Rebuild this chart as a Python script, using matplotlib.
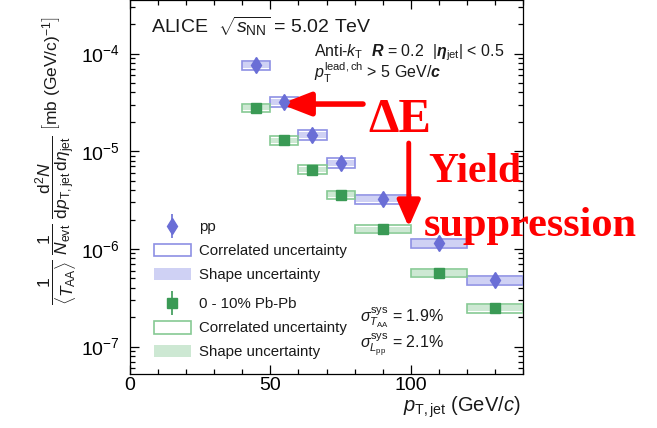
import numpy as np
import matplotlib
matplotlib.use('Agg')
import matplotlib.pyplot as plt
from matplotlib.patches import Patch
from matplotlib.container import ErrorbarContainer
from matplotlib.legend_handler import HandlerErrorbar
from matplotlib.ticker import MultipleLocator, LogLocator, NullFormatter

plt.rcParams['font.family'] = ['Liberation Sans', 'DejaVu Sans']
plt.rcParams['mathtext.fontset'] = 'custom'
plt.rcParams['mathtext.rm'] = 'Liberation Sans'
plt.rcParams['mathtext.it'] = 'Liberation Sans:italic'
plt.rcParams['mathtext.bf'] = 'Liberation Sans:bold'
plt.rcParams['mathtext.bfit'] = 'Liberation Sans:bold:italic'
plt.rcParams['text.color'] = '#1a1a1a'

# pT,jet bins (GeV/c)
bin_lo = [40, 50, 60, 70, 80, 100, 120]
bin_hi = [50, 60, 70, 80, 100, 120, 140]

# pp cross section (mb (GeV/c)^-1)
pp_vals = [7.6e-5, 3.2e-5, 1.47e-5, 7.6e-6, 3.25e-6, 1.15e-6, 4.8e-7]
# 0-10% Pb-Pb yield scaled by <T_AA>
pb_vals = [2.8e-5, 1.3e-5, 6.5e-6, 3.6e-6, 1.6e-6, 5.7e-7, 2.47e-7]

# relative uncertainties (estimated)
pp_stat = [0.06, 0.05, 0.05, 0.05, 0.05, 0.06, 0.07]
pb_stat = [0.04, 0.04, 0.04, 0.04, 0.04, 0.05, 0.06]
pp_corr = [0.11, 0.11, 0.11, 0.11, 0.11, 0.11, 0.11]
pb_corr = [0.10, 0.10, 0.10, 0.10, 0.10, 0.10, 0.11]
pp_shape = [0.07, 0.07, 0.07, 0.07, 0.07, 0.08, 0.08]
pb_shape = [0.06, 0.06, 0.06, 0.06, 0.06, 0.07, 0.07]

pp_col, pp_edge, pp_fill = '#6a6ed6', '#8d90e4', '#cfd1f4'
pb_col, pb_edge, pb_fill = '#3a9a55', '#86c994', '#cde8d3'

fig = plt.figure(figsize=(6.57, 4.28), dpi=100)
ax = fig.add_axes([130 / 657, 1 - 374 / 428, 393 / 657, 374 / 428])

lo = np.array(bin_lo, float)
hi = np.array(bin_hi, float)
ctr = (lo + hi) / 2
wid = hi - lo


def draw_set(vals, stat, corr, shape, col, edge, fill, marker, label, ms):
    v = np.array(vals)
    s = np.array(shape)
    c = np.array(corr)
    ax.bar(ctr, v * (1 + s) - v * (1 - s), bottom=v * (1 - s), width=wid,
           color=fill, edgecolor='none', zorder=2)
    ax.bar(ctr, v * (1 + c) - v * (1 - c), bottom=v * (1 - c), width=wid,
           facecolor='none', edgecolor=edge, linewidth=1.2, zorder=3)
    return ax.errorbar(ctr, v, yerr=v * np.array(stat), fmt=marker, color=col,
                       ms=ms, elinewidth=1.2, capsize=0, zorder=4, label=label)


h_pp = draw_set(pp_vals, pp_stat, pp_corr, pp_shape, pp_col, pp_edge, pp_fill,
                'd', 'pp', 8)
h_pb = draw_set(pb_vals, pb_stat, pb_corr, pb_shape, pb_col, pb_edge, pb_fill,
                's', '0 - 10% Pb-Pb', 6.5)

ax.set_yscale('log')
ax.set_xlim(0, 140)
ax.set_ylim(10 ** -7.28, 10 ** -3.452)
ax.set_xticks([0, 50, 100])
ax.xaxis.set_minor_locator(MultipleLocator(10))
ax.yaxis.set_major_locator(LogLocator(base=10, numticks=10))
ax.yaxis.set_minor_locator(LogLocator(base=10, subs=np.arange(2, 10), numticks=50))
ax.yaxis.set_minor_formatter(NullFormatter())
ax.tick_params(which='both', direction='in', top=True, right=True, width=0.9,
               labelsize=14)
ax.tick_params(which='major', length=6.5)
ax.tick_params(which='minor', length=3.5)
ax.tick_params(axis='y', pad=7)
ax.tick_params(axis='x', pad=2)
for sp in ax.spines.values():
    sp.set_linewidth(0.9)

# axis titles
ax.text(-0.185, 0.57,
        r'$\dfrac{1}{\langle T_{\rm AA}\rangle}\ \dfrac{1}{N_{\rm evt}}\ '
        r'\dfrac{{\rm d}^2N}{{\rm d}p_{\rm T,jet}\,{\rm d}\eta_{\rm jet}}\ '
        r'\left[{\rm mb\ (GeV/c)}^{-1}\right]$',
        transform=ax.transAxes, rotation=90, ha='center', va='center',
        fontsize=12.5)
ax.text(0.995, -0.09, r'$p_{\rm T,jet}$ (GeV/$c$)', transform=ax.transAxes,
        ha='right', va='center', fontsize=14.5)

# header texts
ax.text(0.053, 0.93, r'ALICE  $\sqrt{s_{\rm NN}}$ = 5.02 TeV',
        transform=ax.transAxes, fontsize=14, va='center')
ax.text(0.467, 0.85,
        r'Anti-$k_{\rm T}$  $\mathbfit{R}$ = 0.2  |$\mathbfit{\eta}_{\rm jet}$| < 0.5',
        transform=ax.transAxes, fontsize=11.5, va='baseline')
ax.text(0.467, 0.79, r'$p_{\rm T}^{\rm lead,ch}$ > 5 GeV/$\mathbfit{c}$',
        transform=ax.transAxes, fontsize=11.5, va='baseline')
ax.text(0.585, 0.15, r'$\sigma^{\rm sys}_{T_{\rm AA}}$ = 1.9%',
        transform=ax.transAxes, fontsize=11.5, va='center')
ax.text(0.585, 0.077, r'$\sigma^{\rm sys}_{L_{\rm pp}}$ = 2.1%',
        transform=ax.transAxes, fontsize=11.5, va='center')

# legends
leg_kw = dict(frameon=False, fontsize=10.8, handlelength=2.5, handleheight=0.93,
              labelspacing=0.62, handletextpad=0.5, borderpad=0,
              borderaxespad=0, loc='upper left',
              handler_map={ErrorbarContainer: HandlerErrorbar(yerr_size=0.8)})
leg1 = ax.legend([h_pp,
                  Patch(facecolor='white', edgecolor=pp_edge, lw=1.2),
                  Patch(facecolor=pp_fill, edgecolor='none')],
                 ['pp', 'Correlated uncertainty', 'Shape uncertainty'],
                 bbox_to_anchor=(0.06, 0.412), **leg_kw)
ax.add_artist(leg1)
ax.legend([h_pb,
           Patch(facecolor='white', edgecolor=pb_edge, lw=1.2),
           Patch(facecolor=pb_fill, edgecolor='none')],
          ['0 - 10% Pb-Pb', 'Correlated uncertainty', 'Shape uncertainty'],
          bbox_to_anchor=(0.06, 0.206), **leg_kw)

# red annotations
ax.annotate('', xy=(53.6, 10 ** -4.517), xytext=(83.0, 10 ** -4.517),
            arrowprops=dict(arrowstyle='-|>,head_length=0.9,head_width=0.35',
                            color='red', lw=4, mutation_scale=20,
                            shrinkA=0, shrinkB=0),
            annotation_clip=False)
ax.annotate('', xy=(99.3, 10 ** -5.776), xytext=(99.3, 10 ** -4.916),
            arrowprops=dict(arrowstyle='-|>,head_length=0.8,head_width=0.35',
                            color='red', lw=3.5, mutation_scale=20,
                            shrinkA=0, shrinkB=0),
            annotation_clip=False)
red_kw = dict(color='red', fontweight='bold', family='Liberation Serif',
              va='baseline', ha='left')
fig.text(368 / 657, 1 - 132 / 428, '\u0394E', fontsize=35, **red_kw)
fig.text(428 / 657, 1 - 182 / 428, 'Yield', fontsize=30, **red_kw)
fig.text(424 / 657, 1 - 236 / 428, 'suppression', fontsize=30.5, **red_kw)

fig.savefig('out.png', dpi=100)
